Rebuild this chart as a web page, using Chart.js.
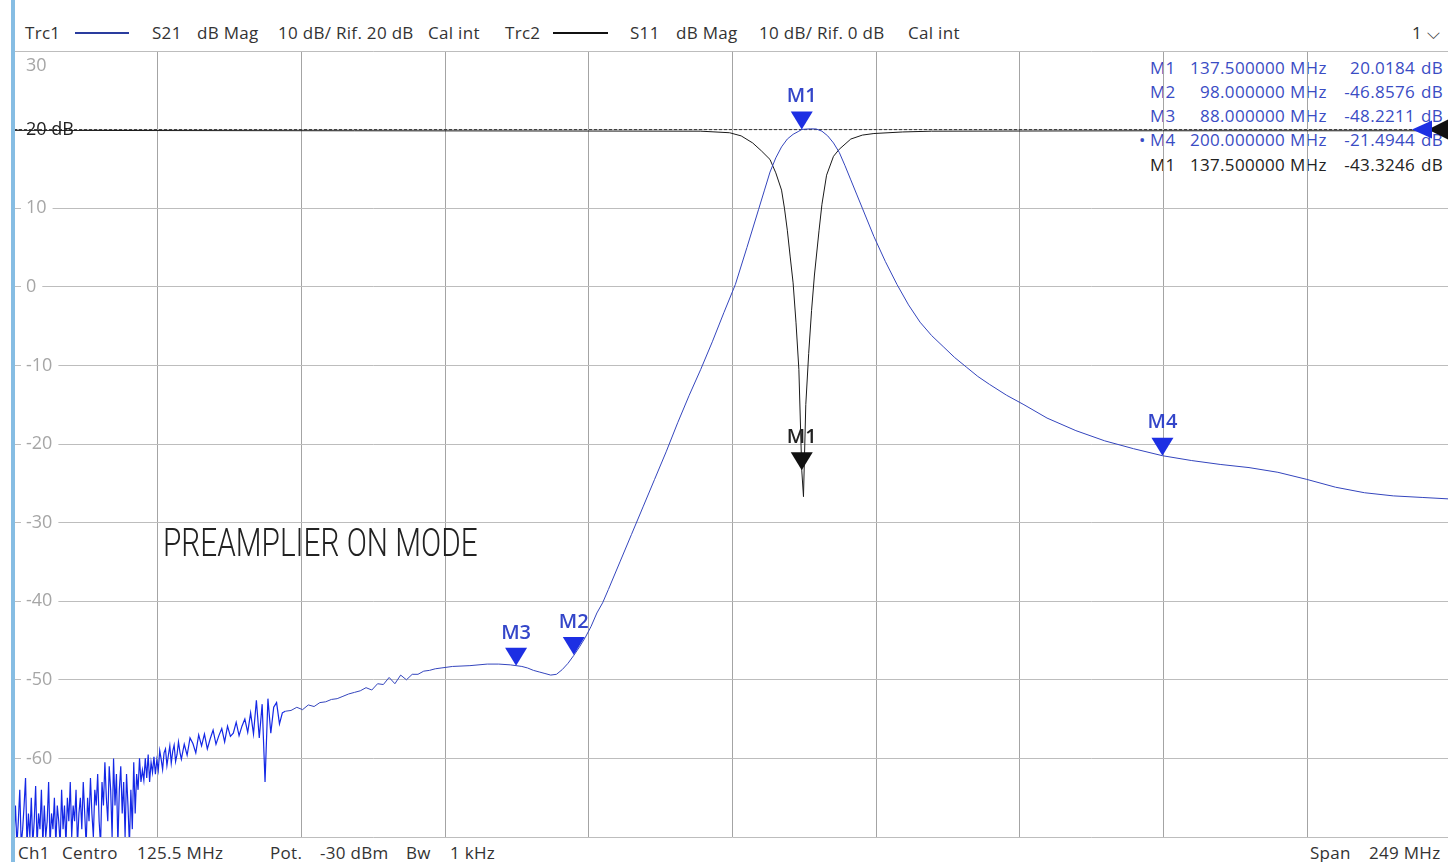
<!DOCTYPE html>
<html>
<head>
<meta charset="utf-8">
<script src="https://cdn.jsdelivr.net/npm/chart.js@4.4.1/dist/chart.umd.min.js"></script>
<style>
  html, body { margin: 0; padding: 0; background: #fff; }
  body { width: 1448px; height: 862px; position: relative; overflow: hidden; font-family: 'Open Sans', sans-serif; color: #333; }
  #frame { position: absolute; left: 11px; top: 0; width: 4px; height: 862px; background: #86bde3; z-index: 3; }
  .t { position: absolute; font-size: 17px; letter-spacing: 0.3px; line-height: 20px; white-space: nowrap; z-index: 0; }
  .seg { position: absolute; height: 2px; top: 32px; z-index: 0; }
  #title { position: absolute; left: 163px; top: 520px; font-family: Roboto, sans-serif; font-weight: 300; font-size: 38px; line-height: 46px; color: #222; white-space: nowrap; transform-origin: left top; z-index: 2; }
  #chart { position: absolute; left: 0; top: 0; z-index: 1; }
  .blue { color: #3a4cc4; }
  .black { color: #222; }
</style>
</head>
<body>
<div id="frame"></div>

<!-- header -->
<div class="t" style="left:25px;top:23px">Trc1</div>
<div class="seg" style="left:75px;width:54px;background:#2a3c9e"></div>
<div class="t" style="left:152px;top:23px">S21</div>
<div class="t" style="left:197px;top:23px">dB Mag</div>
<div class="t" style="left:278px;top:23px">10 dB/ Rif. 20 dB</div>
<div class="t" style="left:428px;top:23px">Cal int</div>
<div class="t" style="left:505px;top:23px">Trc2</div>
<div class="seg" style="left:553px;width:55px;background:#111"></div>
<div class="t" style="left:630px;top:23px">S11</div>
<div class="t" style="left:676px;top:23px">dB Mag</div>
<div class="t" style="left:759px;top:23px">10 dB/ Rif. 0 dB</div>
<div class="t" style="left:908px;top:23px">Cal int</div>
<div class="t" style="left:1412px;top:23px">1 &#x2335;</div>

<!-- footer -->
<div class="t" style="left:18px;top:843px">Ch1</div>
<div class="t" style="left:62px;top:843px">Centro</div>
<div class="t" id="centerTxt" style="left:137px;top:843px"></div>
<div class="t" style="left:270px;top:843px">Pot.</div>
<div class="t" style="left:320px;top:843px">-30 dBm</div>
<div class="t" style="left:406px;top:843px">Bw</div>
<div class="t" style="left:450px;top:843px">1 kHz</div>
<div class="t" style="left:1310px;top:843px">Span</div>
<div class="t" id="spanTxt" style="left:1369px;top:843px"></div>

<div id="markerTable"></div>
<div id="title">PREAMPLIER ON MODE</div>

<canvas id="chart" width="1451" height="862"></canvas>

<script>
// sweep settings
const centerMHz = 125.5;
const spanMHz = 249;
const refLevelTrc1 = 20;   // dB at reference line
const dbPerDiv = 10;
const trc2Offset = 20;     // Trc2 (ref 0 dB) shown on the same grid line as Trc1 20 dB

// S21, noisy low end (fine steps)
const s21LowFreq = [1,1.25,1.5,1.75,2,2.25,2.5,2.75,3,3.25,3.5,3.75,4,4.25,4.5,4.75,5,5.25,5.5,5.75,
  6,6.25,6.5,6.75,7,7.25,7.5,7.75,8,8.25,8.5,8.75,9,9.25,9.5,9.75,10,10.25,10.5,10.75,
  11,11.25,11.5,11.75,12,12.25,12.5,12.75,13,13.25,13.5,13.75,14,14.25,14.5,14.75,15,15.25,15.5,15.75,
  16,16.25,16.5,16.75,17,17.25,17.5,17.75,18,18.25,18.5,18.75,19,19.25,19.5,19.75,20,20.25,20.5,20.75,
  21,21.25,21.5,21.75,22,22.25,22.5,22.75,23,23.25,23.5,23.75,24,24.25,24.5,24.75,25,25.25,25.5,25.75,
  26,26.25,26.5,26.75,27,27.25,27.5,27.75,28,28.25,28.5,28.75,29,29.25,29.5,29.75,30,
  30.5,31,31.5,32,32.5,33,33.5,34,34.5,35,35.5,36,36.5,37,37.5,38,38.5,39,39.5,40,
  40.5,41,41.5,42,42.5,43,43.5,44,44.5,45,45.5,46,46.5,47,47.5];
const s21LowDb = [-70,-66,-71,-68,-64,-71,-69,-66,-62.5,-71,
  -67,-70,-65,-71,-68,-63.5,-71,-67,-69,-64,
  -71,-66,-70,-68,-63,-71,-67,-69,-65,-71,
  -66,-68,-71,-64,-69,-66,-71,-65,-68,-63,
  -70,-66,-68,-64,-71,-67,-65,-69,-63,-67,
  -71,-65,-68,-62.5,-67,-70,-64,-66,-62,-68,
  -71,-63,-66,-60.5,-65,-68,-61,-64,-70,-60,
  -66,-62,-71,-64,-61,-67,-63,-70,-62,-66,
  -71,-64,-69,-60.5,-67,-62,-64,-60,-63,-61.5,
  -62.8,-60,-62.5,-59.5,-63,-60.5,-61.8,-59.8,-62,-60.2,
  -61.5,-59,-60.1,-61.4,-59.3,-58.8,-60.9,-59.6,-58.4,-60.6,
  -59.1,-58.3,-60.4,-59.5,-57.9,-59.2,-60.1,
  -58.2,-59.6,-57.4,-58.1,-59.3,-57,-58.4,-56.9,-58.8,-57.5,
  -56.4,-58.2,-57.1,-56.2,-57.9,-55.9,-57.2,-56.8,-55.4,-57.1,
  -55.9,-55,-56.7,-54.2,-56.9,-52.6,-57.4,-53.1,-63,-52.4,
  -56.8,-53.5,-52.9,-55.6,-54.2];

// S21, rest of the sweep
const s21Freq = [48,49,50,51,52,53,54,55,56,57,58,59,60,61,62,63,64,65,66,67,68,69,70,71,72,73,74,75,
  77,80,83,85,87,88,89,90,91,92,93,94,95,96,97,98,99,100,101,102,103,104,106,108,110,112,114,116,118,
  120,122,124,126,128,130,131,132,133,134,135,136,137,137.5,138,139,140,141,142,143,144,145,146,147,148,
  150,152,154,156,158,160,162,164,166,168,170,173,176,180,185,190,195,200,205,210,215,220,225,230,235,240,245,250];
const s21Db = [-54,-53.9,-53.5,-53.8,-53.2,-53.4,-52.9,-52.8,-52.5,-52.4,-52.1,-51.8,-51.6,-51.4,-51,-51.3,-50.5,-50.6,-49.7,-50.5,-49.4,-50,-49.3,-49.3,-48.9,-48.8,-48.6,-48.5,
  -48.3,-48.2,-48,-48,-48.1,-48.2,-48.3,-48.5,-48.8,-49,-49.2,-49.4,-49.3,-48.7,-47.9,-46.9,-45.8,-44.6,-43.2,-41.5,-40.2,-38.5,-35,-31.5,-28,-24.5,-21,-17.3,-13.8,
  -10.5,-7,-3.3,0.3,5,9.8,12.2,14.6,16.4,17.8,18.8,19.4,19.8,20.02,20.05,20.1,20.08,19.8,19.2,18.3,17.1,15.4,13.6,11.8,10,
  6.4,3.2,0.3,-2.3,-4.5,-6.2,-7.6,-9,-10.2,-11.4,-12.4,-13.8,-15,-16.7,-18.3,-19.6,-20.6,-21.49,-22.1,-22.6,-23,-23.6,-24.5,-25.5,-26.2,-26.6,-26.8,-27];

// S11 (own dB scale, ref 0 dB)
const s11Freq = [1,60,120,125,127,129,130.5,132,133,134,134.5,135,135.5,136,136.5,137,137.5,137.8,138.2,138.7,139.2,139.7,140.5,141,141.8,143,144,146,148,150,155,160,200,250];
const s11Db = [-0.1,-0.15,-0.2,-0.4,-0.8,-1.7,-2.7,-3.8,-5.5,-7.7,-10,-12.8,-16.2,-19.5,-24.5,-30.5,-43.3246,-46.7,-35,-28.5,-23,-18.5,-12.8,-9.5,-5.8,-3.4,-2.5,-1.2,-0.7,-0.5,-0.3,-0.2,-0.15,-0.15];

// markers
const markerNames = ['M1', 'M2', 'M3', 'M4', 'M1'];
const markerFreq = [137.5, 98, 88, 200, 137.5];
const markerDb = [20.0184, -46.8576, -48.2211, -21.4944, -43.3246];
const markerTrace = [1, 1, 1, 1, 2];

const xMin = centerMHz - spanMHz / 2;
const xMax = centerMHz + spanMHz / 2;
const yMax = refLevelTrc1 + dbPerDiv;
const yMin = yMax - 10 * dbPerDiv;

document.getElementById('centerTxt').textContent = centerMHz + ' MHz';
document.getElementById('spanTxt').textContent = spanMHz + ' MHz';

// marker table (top right)
const table = document.getElementById('markerTable');
markerNames.forEach((name, i) => {
  const top = 58 + i * 24 + (i === 4 ? 1 : 0);
  const cls = markerTrace[i] === 2 ? 'black' : 'blue';
  const cells = [
    [name, 'left:1150px'],
    [markerFreq[i].toFixed(6), 'right:' + (1448 - 1285) + 'px'],
    ['MHz', 'left:1290px'],
    [markerDb[i].toFixed(4), 'right:' + (1448 - 1415) + 'px'],
    ['dB', 'left:1421px']
  ];
  if (i === 3) cells.push(['\u2022', 'left:1139px']);
  cells.forEach(([txt, pos]) => {
    const d = document.createElement('div');
    d.className = 't ' + cls;
    d.style.cssText += pos + ';top:' + top + 'px';
    d.textContent = txt;
    table.appendChild(d);
  });
});

// squeeze the annotation to its width in the screenshot
const title = document.getElementById('title');
title.style.transform = 'scaleX(' + (315 / title.offsetWidth) + ')';

const toPoints = (xs, ys, off) => xs.map((f, i) => ({ x: f, y: ys[i] + (off || 0) }));

const markerPlugin = {
  id: 'vnaMarkers',
  afterDraw(chart) {
    const { ctx, scales: { x, y } } = chart;
    ctx.save();
    // top tick label sits below its grid line
    ctx.font = '18px "Open Sans"';
    ctx.fillStyle = '#a6a6a6';
    ctx.textAlign = 'left';
    ctx.textBaseline = 'middle';
    ctx.fillText(String(yMax), chart.chartArea.left + 12, y.getPixelForValue(yMax) + 15);

    markerNames.forEach((name, i) => {
      const trc2 = markerTrace[i] === 2;
      const px = x.getPixelForValue(markerFreq[i]);
      const py = y.getPixelForValue(markerDb[i] + (trc2 ? trc2Offset : 0));
      ctx.fillStyle = trc2 ? '#111' : '#1d2fe3';
      ctx.beginPath();
      ctx.moveTo(px - 11, py - 18);
      ctx.lineTo(px + 11, py - 18);
      ctx.lineTo(px, py);
      ctx.closePath();
      ctx.fill();
      ctx.font = '600 20px "Open Sans"';
      ctx.textAlign = 'center';
      ctx.fillStyle = trc2 ? '#222' : '#3446c9';
      ctx.fillText(name, px, py - 33);
    });
    // reference level arrows at right edge
    const ry = y.getPixelForValue(refLevelTrc1);
    const r = 1448;
    ctx.fillStyle = '#111';
    ctx.beginPath();
    ctx.moveTo(r - 20, ry); ctx.lineTo(r, ry - 10); ctx.lineTo(r, ry + 10); ctx.closePath(); ctx.fill();
    ctx.fillStyle = '#1d2fe3';
    ctx.beginPath();
    ctx.moveTo(r - 36, ry); ctx.lineTo(r - 16, ry - 9); ctx.lineTo(r - 16, ry + 9); ctx.closePath(); ctx.fill();
    ctx.restore();
  }
};

const lowPts = toPoints(s21LowFreq, s21LowDb).concat([{ x: s21Freq[0], y: s21Db[0] }]);

new Chart(document.getElementById('chart'), {
  type: 'line',
  data: {
    datasets: [{
      label: 'S21',
      data: toPoints(s21Freq, s21Db),
      borderColor: '#3445bd',
      borderWidth: 1,
      pointRadius: 0,
      tension: 0
    }, {
      label: 'S21 low',
      data: lowPts,
      borderColor: '#1428e6',
      borderWidth: 1.2,
      pointRadius: 0,
      tension: 0
    }, {
      label: 'S11',
      data: toPoints(s11Freq, s11Db, trc2Offset),
      borderColor: '#1a1a1a',
      borderWidth: 1,
      pointRadius: 0,
      tension: 0
    }, {
      label: 'ref',
      data: [{ x: xMin, y: refLevelTrc1 }, { x: xMax, y: refLevelTrc1 }],
      borderColor: '#333',
      borderWidth: 1,
      borderDash: [3, 2],
      pointRadius: 0
    }]
  },
  options: {
    responsive: false,
    animation: false,
    devicePixelRatio: 1,
    layout: { padding: { left: 14, top: 51, right: 0, bottom: 25 } },
    plugins: { legend: { display: false }, tooltip: { enabled: false } },
    scales: {
      x: {
        type: 'linear',
        min: xMin,
        max: xMax,
        afterBuildTicks: s => { s.ticks = Array.from({ length: 11 }, (_, i) => ({ value: xMin + i * spanMHz / 10 })); },
        afterFit: s => { s.height = 0; },
        ticks: { display: false },
        grid: { color: '#a4a4a4', drawTicks: false },
        border: { display: false }
      },
      y: {
        min: yMin,
        max: yMax,
        afterFit: s => { s.width = 0; },
        ticks: {
          stepSize: dbPerDiv,
          mirror: true,
          padding: 12,
          font: { family: 'Open Sans', size: 18 },
          color: c => c.tick.value === refLevelTrc1 ? '#222' : '#a6a6a6',
          callback: v => (v === yMin || v === yMax) ? '' : (v === refLevelTrc1 ? v + ' dB' : v),
          showLabelBackdrop: true,
          backdropColor: c => (c.tick.value === yMin || c.tick.value === yMax) ? 'rgba(0,0,0,0)' : '#fff',
          backdropPadding: { left: 5, right: 6, top: 0, bottom: 0 }
        },
        grid: { color: '#bdbdbd', drawTicks: false },
        border: { display: false }
      }
    }
  },
  plugins: [markerPlugin]
});
</script>
</body>
</html>
